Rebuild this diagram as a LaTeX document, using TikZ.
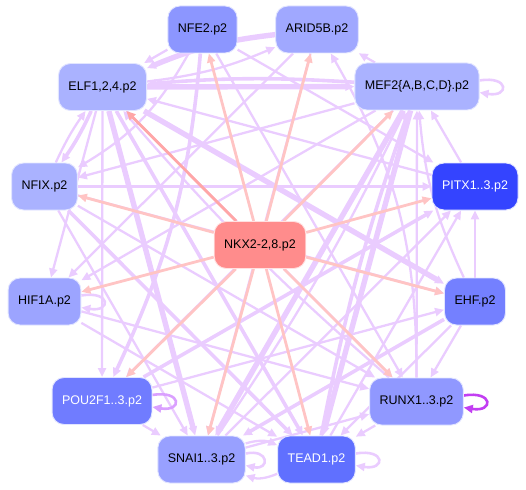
\documentclass[tikz,border=0pt]{standalone}
\usepackage{fontspec}
\setmainfont{Liberation Sans}
\usetikzlibrary{arrows.meta}
\definecolor{Lavender}{RGB}{234,204,255}
\definecolor{SoftPink}{RGB}{255,196,196}
\definecolor{DeepPink}{RGB}{255,166,166}
\definecolor{MidViolet}{RGB}{218,160,255}
\definecolor{StrongViolet}{RGB}{194,62,242}
\definecolor{BoxRim}{RGB}{226,229,255}
\definecolor{HubRed}{RGB}{255,140,140}
\definecolor{BlueA}{RGB}{140,150,255}
\definecolor{BlueB}{RGB}{160,168,255}
\definecolor{BlueC}{RGB}{170,178,255}
\definecolor{BlueD}{RGB}{52,68,255}
\definecolor{BlueE}{RGB}{156,164,255}
\definecolor{BlueF}{RGB}{116,128,255}
\definecolor{BlueG}{RGB}{112,124,255}
\definecolor{BlueH}{RGB}{144,152,255}
\definecolor{BlueI}{RGB}{152,160,255}
\definecolor{BlueJ}{RGB}{96,112,255}
\pgfdeclarelayer{edgelayer}
\pgfsetlayers{edgelayer,main}

\begin{document}
\begin{tikzpicture}[
      x=1pt,y=-1pt,
      tfBox/.style={draw=BoxRim,line width=0.9pt,rounded corners=12pt,
                    minimum height=47pt,inner xsep=10pt,
                    font=\fontsize{12.5}{15}\selectfont},
      tfLight/.style={tfBox,text=white},
      tip/.style={-{Triangle[length=9pt,width=8pt]}},
      hubEdge/.style={tip,SoftPink,line width=2.8pt},
      regThin/.style={tip,Lavender,line width=2.3pt},
      regMid/.style={tip,Lavender,line width=3.6pt},
      regThick/.style={tip,Lavender,line width=5.4pt},
      selfLoop/.style={tip,Lavender,line width=2.6pt}
    ]
    \useasboundingbox (0,0) rectangle (526,489);

    % Factor nodes
    \node(nfe)[tfBox,fill=BlueA] at (202.5,29.5) {NFE2.p2};
    \node(arid)[tfBox,fill=BlueB] at (317,29.5) {ARID5B.p2};
    \node(elf)[tfBox,fill=BlueC] at (102.5,87) {ELF1,2,4.p2};
    \node(mef)[tfBox,fill=BlueC] at (417,86.5) {MEF2\{A,B,C,D\}.p2};
    \node(nfix)[tfBox,fill=BlueC] at (44.5,186.5) {NFIX.p2};
    \node(pitx)[tfLight,fill=BlueD] at (475,186.5) {PITX1..3.p2};
    \node(nkx)[tfBox,fill=HubRed,draw=SoftPink!50] at (260,245) {NKX2-2,8.p2};
    \node(hif)[tfBox,fill=BlueE] at (44.5,301.5) {HIF1A.p2};
    \node(ehf)[tfBox,fill=BlueF] at (475,301.5) {EHF.p2};
    \node(pou)[tfLight,fill=BlueG] at (102,401) {POU2F1..3.p2};
    \node(runx)[tfBox,fill=BlueH] at (416.5,401.5) {RUNX1..3.p2};
    \node(snai)[tfBox,fill=BlueI] at (201.5,459.5) {SNAI1..3.p2};
    \node(tead)[tfLight,fill=BlueJ] at (316.5,459.5) {TEAD1.p2};

    \begin{pgfonlayer}{edgelayer}
    % Regulation among the targets
    \draw[regThick] (elf) -- (mef);
    \draw[regMid] (mef) to[bend right=4] (elf);
    \draw[regThick] (arid) to[bend right=8] (elf);
    \draw[regThin] (elf) to[bend right=8] (arid);
    \draw[regThin] (nfe) -- (elf);
    \draw[regThin] (nfe) to[bend left=15] (nfix);
    \draw[regMid] (elf) to[bend left=5] (nfix);
    \draw[regThin] (nfix) to[bend left=5] (elf);
    \draw[regThin] (elf) -- (pou);
    \draw[regThin] (elf) -- (hif);
    \draw[regThick] (elf) -- (snai);
    \draw[regMid] (elf) -- (tead);
    \draw[regThin] (elf) -- (runx);
    \draw[regThick] (elf) -- (ehf);
    \draw[regThin] (pitx) -- (elf);
    \draw[regThin] (runx) to[bend left=4] (elf);

    \draw[regThin] (mef) -- (arid);
    \draw[regThick] (mef) -- (snai);
    \draw[regThick] (mef) -- (tead);
    \draw[regThin] (snai) to[bend right=4] (mef);
    \draw[regMid] (tead) to[bend left=4] (mef);
    \draw[regThin] (runx) -- (mef);
    \draw[regThin] (ehf) to[bend left=10] (mef);
    \draw[regThin] (pitx) -- (mef);
    \draw[regThin] (mef) -- (hif);
    \draw[regThin] (mef) -- (pou);
    \draw[regThin] (mef) -- (nfix);

    \draw[regMid] (nfe) to[bend left=10] (pou);
    \draw[regThin] (nfe) -- (runx);
    \draw[regThin] (nfe) -- (pitx);
    \draw[regThin] (runx) to[bend right=15] (arid);
    \draw[regThin] (arid) -- (snai);
    \draw[regThin] (arid) -- (hif);

    \draw[regThin] (nfix) -- (pitx);
    \draw[regThin] (nfix) -- (ehf);
    \draw[regThin] (nfix) -- (snai);
    \draw[regMid] (nfix) -- (tead);
    \draw[regThin] (nfix) -- (runx);

    \draw[regThin] (ehf) -- (pitx);
    \draw[regThin] (ehf) -- (runx);
    \draw[regThin] (ehf) -- (tead);
    \draw[regMid] (ehf) -- (snai);
    \draw[regThin] (snai) -- (pitx);
    \draw[regThin] (tead) -- (pitx);
    \draw[regThin] (pou) -- (ehf);
    \draw[regMid] (pou) -- (pitx);

    \draw[regThin] (pou) -- (snai);
    \draw[regThin] (snai) -- (runx);
    \draw[regThin] (runx) -- (tead);
    \draw[regThin] (hif) -- (runx);
    \draw[regThin] (hif) -- (tead);
    \draw[regThin] (snai) to[bend left=20] (tead);
    \draw[regThin] (tead) to[bend left=20] (snai);

    % Self regulation
    \draw[selfLoop] ([yshift=6pt]mef.east) .. controls +(30pt,5pt) and +(30pt,-5pt) .. ([yshift=-6pt]mef.east);
    \draw[selfLoop] ([yshift=6pt]hif.east) .. controls +(30pt,5pt) and +(30pt,-5pt) .. ([yshift=-6pt]hif.east);
    \draw[selfLoop,MidViolet] ([yshift=6pt]pou.east) .. controls +(30pt,5pt) and +(30pt,-5pt) .. ([yshift=-6pt]pou.east);
    \draw[selfLoop,StrongViolet] ([yshift=6pt]runx.east) .. controls +(30pt,5pt) and +(30pt,-5pt) .. ([yshift=-6pt]runx.east);
    \draw[selfLoop] ([yshift=6pt]tead.east) .. controls +(30pt,5pt) and +(30pt,-5pt) .. ([yshift=-6pt]tead.east);
    \draw[selfLoop] ([yshift=6pt]snai.east) .. controls +(24pt,5pt) and +(24pt,-5pt) .. ([yshift=-6pt]snai.east);

    % Hub regulation
    \draw[hubEdge,DeepPink] (nkx) -- (elf);
    \foreach \tgt in {nfe,arid,mef,nfix,pitx,hif,ehf,pou,runx,snai,tead}
      \draw[hubEdge] (nkx) -- (\tgt);
    \end{pgfonlayer}
  \end{tikzpicture}
\end{document}
